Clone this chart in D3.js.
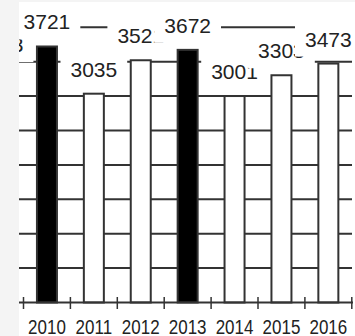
<!DOCTYPE html>
<html>
<head>
<meta charset="utf-8">
<script src="https://cdn.jsdelivr.net/npm/d3@7"></script>
<style>
  html, body { margin: 0; padding: 0; background: #f4f4f4; }
  svg { display: block; }
</style>
</head>
<body>
<div id="chart"></div>
<script>
// years shown (2009 is cut off at the left edge of the crop)
const years = ["2009", "2010", "2011", "2012", "2013", "2014", "2015", "2016"];
const values = [3393, 3721, 3035, 3521, 3672, 3001, 3303, 3473];
const highlighted = ["2010", "2013"];
const yTicks = [0, 500, 1000, 1500, 2000, 2500, 3000, 3500, 4000];

const width = 355;
const height = 336;
const plotLeft = 19;
const plotTop = 2;
const baseY = 302.5;

const svg = d3.select("#chart")
    .append("svg")
    .attr("width", width)
    .attr("height", height);

svg.append("defs")
    .append("clipPath")
    .attr("id", "plot-clip")
    .append("rect")
    .attr("x", plotLeft)
    .attr("y", 0)
    .attr("width", width - plotLeft)
    .attr("height", height);

svg.append("rect")
    .attr("x", plotLeft)
    .attr("y", plotTop)
    .attr("width", width - plotLeft)
    .attr("height", height - plotTop)
    .attr("fill", "#fff");

const chart = svg.append("g").attr("clip-path", "url(#plot-clip)");

const xScale = d3.scaleBand()
    .domain(years)
    .range([-23.4, 351.8])
    .padding(0);

const yScale = d3.scaleLinear()
    .domain([0, 4000])
    .range([baseY, 27.3]);

const barWidth = 20;
const data = years.map((y, i) => ({year: y, value: values[i]}));

// gridlines
chart.append("g")
    .selectAll("line")
    .data(yTicks.slice(1))
    .join("line")
    .attr("x1", plotLeft)
    .attr("x2", 352)
    .attr("y1", d => yScale(d))
    .attr("y2", d => yScale(d))
    .attr("stroke", "#333")
    .attr("stroke-width", 2);

// bars
chart.append("g")
    .selectAll("rect")
    .data(data)
    .join("rect")
    .attr("x", d => xScale(d.year) + (xScale.bandwidth() - barWidth) / 2)
    .attr("y", d => yScale(d.value))
    .attr("width", barWidth)
    .attr("height", d => baseY - yScale(d.value))
    .attr("fill", d => highlighted.includes(d.year) ? "#000" : "#fff")
    .attr("stroke", "#333")
    .attr("stroke-width", 2);

// x axis line and ticks at band edges
const xAxis = chart.append("g").attr("class", "x-axis");
xAxis.append("line")
    .attr("x1", plotLeft)
    .attr("x2", 353)
    .attr("y1", baseY)
    .attr("y2", baseY)
    .attr("stroke", "#333")
    .attr("stroke-width", 2);

const tickEdges = years.slice(1).map(y => xScale(y)).concat([xScale.range()[1]]);
xAxis.selectAll(".tick")
    .data(tickEdges)
    .join("line")
    .attr("class", "tick")
    .attr("x1", d => d)
    .attr("x2", d => d)
    .attr("y1", 297)
    .attr("y2", 309)
    .attr("stroke", "#333")
    .attr("stroke-width", 1.5);

xAxis.selectAll(".xlabel")
    .data(years.slice(1))
    .join("text")
    .attr("class", "xlabel")
    .attr("text-anchor", "middle")
    .attr("font-family", "'Liberation Sans', Arial, sans-serif")
    .attr("font-size", 17)
    .attr("fill", "#222")
    .attr("transform", d => `translate(${xScale(d) + xScale.bandwidth() / 2},333.5) scale(1,1.18)`)
    .text(d => d);

// value labels with white boxes
const labels = chart.append("g").attr("class", "labels");
data.forEach(d => {
    const g = labels.append("g");
    const box = g.append("rect").attr("fill", "#fff");
    const t = g.append("text")
        .attr("x", xScale(d.year) + xScale.bandwidth() / 2)
        .attr("y", yScale(d.value) - 17)
        .attr("text-anchor", "middle")
        .attr("font-family", "'Liberation Sans', Arial, sans-serif")
        .attr("font-size", 21)
        .attr("fill", "#222")
        .text(d.value);
    const bb = t.node().getBBox();
    box.attr("x", bb.x - 10)
        .attr("y", bb.y - 4)
        .attr("width", bb.width + 20)
        .attr("height", bb.height + 10);
});
</script>
</body>
</html>
